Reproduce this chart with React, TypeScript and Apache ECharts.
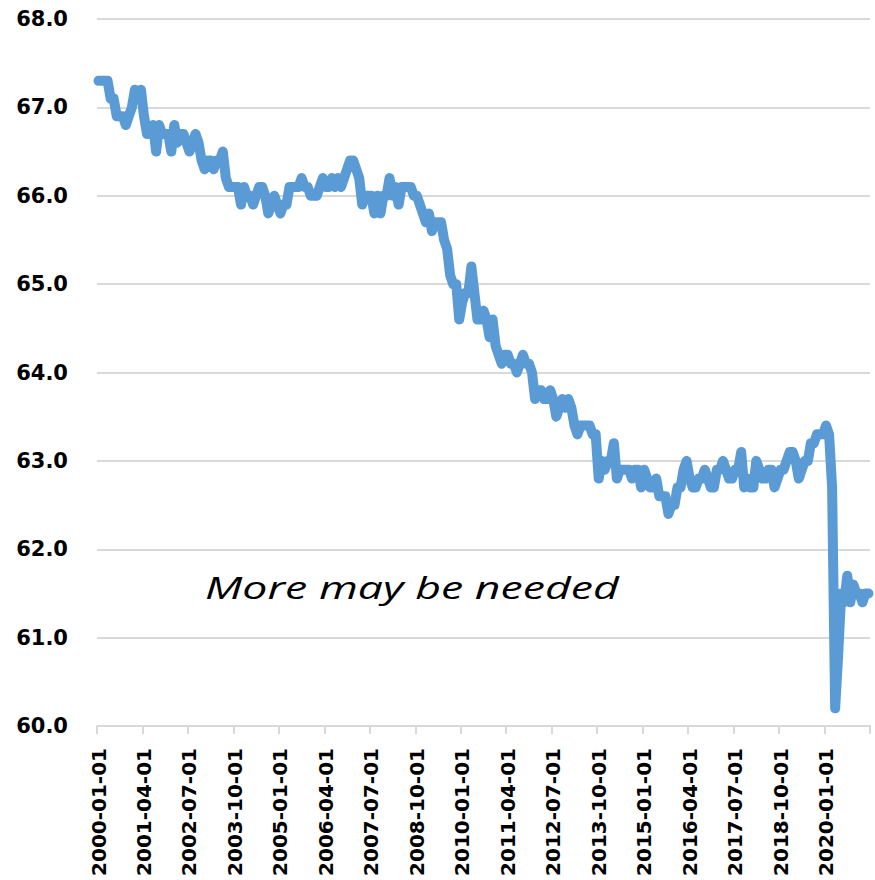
import React, { useEffect, useRef } from "react";
import * as echarts from "echarts";

// Monthly labour force participation rate (%), January through December of each year
const rate2000 = [67.3, 67.3, 67.3, 67.3, 67.1, 67.1, 66.9, 66.9, 66.9, 66.8, 66.9, 67.0];
const rate2001 = [67.2, 67.1, 67.2, 66.9, 66.7, 66.7, 66.8, 66.5, 66.8, 66.7, 66.7, 66.7];
const rate2002 = [66.5, 66.8, 66.6, 66.7, 66.7, 66.6, 66.5, 66.6, 66.7, 66.6, 66.4, 66.3];
const rate2003 = [66.4, 66.4, 66.3, 66.4, 66.4, 66.5, 66.2, 66.1, 66.1, 66.1, 66.1, 65.9];
const rate2004 = [66.1, 66.0, 66.0, 65.9, 66.0, 66.1, 66.1, 66.0, 65.8, 65.9, 66.0, 65.9];
const rate2005 = [65.8, 65.9, 65.9, 66.1, 66.1, 66.1, 66.1, 66.2, 66.1, 66.1, 66.0, 66.0];
const rate2006 = [66.0, 66.1, 66.2, 66.1, 66.1, 66.2, 66.1, 66.2, 66.1, 66.2, 66.3, 66.4];
const rate2007 = [66.4, 66.3, 66.2, 65.9, 66.0, 66.0, 66.0, 65.8, 66.0, 65.8, 66.0, 66.0];
const rate2008 = [66.2, 66.0, 66.1, 65.9, 66.1, 66.1, 66.1, 66.1, 66.0, 66.0, 65.9, 65.8];
const rate2009 = [65.7, 65.8, 65.6, 65.7, 65.7, 65.7, 65.5, 65.4, 65.1, 65.0, 65.0, 64.6];
const rate2010 = [64.8, 64.9, 64.9, 65.2, 64.9, 64.6, 64.6, 64.7, 64.6, 64.4, 64.6, 64.3];
const rate2011 = [64.2, 64.1, 64.2, 64.2, 64.1, 64.1, 64.0, 64.1, 64.2, 64.1, 64.1, 64.0];
const rate2012 = [63.7, 63.8, 63.8, 63.7, 63.7, 63.8, 63.7, 63.5, 63.6, 63.7, 63.6, 63.7];
const rate2013 = [63.6, 63.4, 63.3, 63.4, 63.4, 63.4, 63.4, 63.3, 63.3, 62.8, 63.0, 62.9];
const rate2014 = [63.0, 63.0, 63.2, 62.8, 62.9, 62.9, 62.9, 62.9, 62.8, 62.9, 62.9, 62.7];
const rate2015 = [62.9, 62.8, 62.7, 62.7, 62.8, 62.6, 62.6, 62.6, 62.4, 62.5, 62.5, 62.7];
const rate2016 = [62.7, 62.9, 63.0, 62.8, 62.7, 62.7, 62.8, 62.8, 62.9, 62.8, 62.7, 62.7];
const rate2017 = [62.9, 62.9, 63.0, 62.9, 62.8, 62.8, 62.9, 62.9, 63.1, 62.7, 62.8, 62.7];
const rate2018 = [62.7, 63.0, 62.9, 62.8, 62.8, 62.9, 62.9, 62.7, 62.8, 62.9, 62.9, 63.0];
const rate2019 = [63.1, 63.1, 63.0, 62.8, 62.9, 63.0, 63.0, 63.2, 63.2, 63.3, 63.3, 63.3];
const rate2020 = [63.4, 63.3, 62.7, 60.2, 60.8, 61.5, 61.4, 61.7, 61.4, 61.6, 61.5, 61.5];
const rate2021 = [61.4, 61.5, 61.5];

const yearlyRates: number[][] = [
  rate2000, rate2001, rate2002, rate2003, rate2004, rate2005, rate2006, rate2007,
  rate2008, rate2009, rate2010, rate2011, rate2012, rate2013, rate2014, rate2015,
  rate2016, rate2017, rate2018, rate2019, rate2020, rate2021,
];
const firstYear = 2000;

const yTicks = { min: 60, max: 68, step: 1 };
const noteText = "More may be needed";

const dates: string[] = [];
const values: number[] = [];
yearlyRates.forEach((months, i) => {
  months.forEach((v, m) => {
    dates.push(`${firstYear + i}-${String(m + 1).padStart(2, "0")}-01`);
    values.push(v);
  });
});

const GRID_GRAY = "#d9d9d9";
const LINE_BLUE = "#5b9bd5";
const AXIS_FONT = "DejaVu Sans";

export default function App() {
  const ref = useRef<HTMLDivElement>(null);

  useEffect(() => {
    if (!ref.current) return;
    const chart = echarts.init(ref.current, undefined, { renderer: "svg" });
    chart.setOption({
      animation: false,
      grid: { left: 97, right: 5, top: 19, bottom: 154 },
      xAxis: {
        type: "category",
        data: dates,
        boundaryGap: true,
        axisLine: { lineStyle: { color: GRID_GRAY, width: 2 } },
        axisTick: {
          show: true,
          interval: 14,
          length: 8,
          lineStyle: { color: GRID_GRAY, width: 2 },
        },
        axisLabel: {
          interval: 14,
          rotate: 90,
          margin: 22,
          fontFamily: AXIS_FONT,
          fontWeight: "bold",
          fontSize: 20,
          color: "#000000",
        },
        splitLine: { show: false },
      },
      yAxis: {
        type: "value",
        min: yTicks.min,
        max: yTicks.max,
        interval: yTicks.step,
        axisLabel: {
          margin: 29,
          fontFamily: AXIS_FONT,
          fontWeight: "bold",
          fontSize: 21,
          color: "#000000",
          formatter: (v: number) => v.toFixed(1),
        },
        splitLine: { lineStyle: { color: GRID_GRAY, width: 2 } },
      },
      series: [
        {
          type: "line",
          data: values,
          showSymbol: false,
          lineStyle: { color: LINE_BLUE, width: 10, cap: "round", join: "round" },
          itemStyle: { color: LINE_BLUE },
          z: 3,
        },
      ],
      graphic: [
        {
          type: "text",
          x: 205,
          y: 587,
          scaleX: 1.44,
          originX: 0,
          originY: 0,
          style: {
            text: noteText,
            fontFamily: "Open Sans",
            fontStyle: "italic",
            fontSize: 31,
            fill: "#000000",
            verticalAlign: "middle",
            align: "left",
          },
          z: 10,
        },
      ],
    });
    return () => chart.dispose();
  }, []);

  return <div ref={ref} style={{ position: "absolute", left: 0, top: 0, width: 875, height: 880 }} />;
}
